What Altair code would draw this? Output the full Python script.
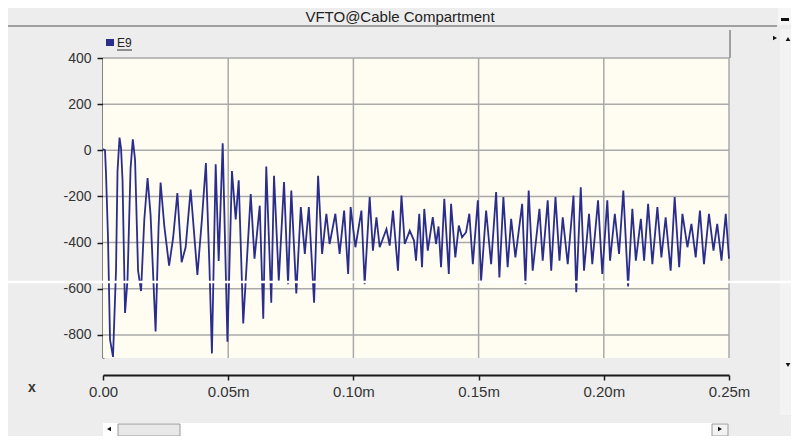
import altair as alt
import pandas as pd

# ---- data (time in ms, voltage) ----
T_MS = [0.0000, 0.0008, 0.0012, 0.0020, 0.0028, 0.0040, 0.0052, 0.0058, 0.0066, 0.0072,
        0.0078, 0.0088, 0.0098, 0.0110, 0.0119, 0.0128, 0.0140, 0.0152, 0.0165, 0.0178,
        0.0190, 0.0210, 0.0222, 0.0230, 0.0245, 0.0264, 0.0280, 0.0297, 0.0314, 0.0330,
        0.0350, 0.0377, 0.0395, 0.0411, 0.0425, 0.0435, 0.0450, 0.0462, 0.0478, 0.0497,
        0.0515, 0.0530, 0.0542, 0.0560, 0.0590, 0.0605, 0.0626, 0.0640, 0.0652, 0.0672,
        0.0683, 0.0702, 0.0723, 0.0739, 0.0752, 0.0772, 0.0790, 0.0806, 0.0822, 0.0843,
        0.0859, 0.0875, 0.0892, 0.0905, 0.0928, 0.0945, 0.0963, 0.0979, 0.0989, 0.1008,
        0.1032, 0.1045, 0.1065, 0.1078, 0.1092, 0.1105, 0.1132, 0.1145, 0.1158, 0.1178,
        0.1192, 0.1205, 0.1225, 0.1242, 0.1250, 0.1263, 0.1274, 0.1283, 0.1297, 0.1317,
        0.1330, 0.1340, 0.1350, 0.1363, 0.1381, 0.1390, 0.1407, 0.1421, 0.1434, 0.1450,
        0.1463, 0.1477, 0.1497, 0.1510, 0.1530, 0.1550, 0.1570, 0.1583, 0.1599, 0.1616,
        0.1630, 0.1647, 0.1674, 0.1687, 0.1700, 0.1716, 0.1743, 0.1756, 0.1776, 0.1790,
        0.1807, 0.1823, 0.1836, 0.1856, 0.1879, 0.1890, 0.1908, 0.1921, 0.1941, 0.1954,
        0.1977, 0.1994, 0.2014, 0.2025, 0.2044, 0.2061, 0.2078, 0.2097, 0.2114, 0.2128,
        0.2148, 0.2161, 0.2177, 0.2194, 0.2214, 0.2230, 0.2247, 0.2267, 0.2283, 0.2301,
        0.2314, 0.2334, 0.2350, 0.2367, 0.2384, 0.2400, 0.2420, 0.2438, 0.2453, 0.2470,
        0.2487, 0.2500]
E9 = [5, 0, -100, -380, -820, -895, -520, -90, 55, 10,
      -130, -705, -560, -80, 48, -40, -520, -610, -300, -120,
      -280, -785, -330, -140, -330, -500, -380, -185, -485, -420,
      -170, -540, -300, -55, -500, -880, -60, -480, 30, -830,
      -90, -300, -130, -750, -190, -470, -240, -730, -70, -660,
      -110, -565, -138, -580, -174, -620, -246, -449, -246, -660,
      -110, -449, -275, -406, -275, -449, -261, -536, -246, -420,
      -261, -580, -203, -435, -290, -420, -341, -413, -261, -522,
      -196, -406, -348, -391, -478, -275, -507, -254, -435, -290,
      -406, -330, -507, -210, -536, -232, -464, -326, -377, -355,
      -275, -493, -217, -565, -261, -493, -181, -551, -203, -507,
      -297, -464, -232, -580, -174, -522, -254, -478, -217, -522,
      -203, -478, -290, -493, -196, -615, -160, -522, -275, -493,
      -217, -536, -217, -478, -275, -449, -174, -590, -254, -478,
      -297, -478, -232, -493, -246, -464, -290, -522, -203, -507,
      -275, -420, -319, -464, -261, -493, -275, -435, -319, -478,
      -275, -470]
Y_TICKS = [-800, -600, -400, -200, 0, 200, 400]
X_TICKS = [0.0, 0.05, 0.10, 0.15, 0.20, 0.25]
TITLE = "VFTO@Cable Compartment"
SERIES = "E9"

W, H = 626, 300
FONT = "Liberation Sans"
NAVY = "#2A2D8C"

df = pd.DataFrame({"t": T_MS, "v": E9})
one = pd.DataFrame({"a": [0]})

xs = alt.Scale(domain=[0, 0.25], nice=False, zero=False)
ys = alt.Scale(domain=[-900, 400], nice=False, zero=False)


def rect(x, x2, y, y2, **kw):
    return alt.Chart(one).mark_rect(**kw).encode(
        x=alt.value(x), x2=alt.value(x2), y=alt.value(y), y2=alt.value(y2))


def hline(x, x2, y, **kw):
    return alt.Chart(one).mark_rule(**kw).encode(
        x=alt.value(x), x2=alt.value(x2), y=alt.value(y))


def vline(x, y, y2, **kw):
    return alt.Chart(one).mark_rule(**kw).encode(
        x=alt.value(x), y=alt.value(y), y2=alt.value(y2))


def label(x, y, txt, **kw):
    return alt.Chart(one).mark_text(text=txt, font=FONT, **kw).encode(
        x=alt.value(x), y=alt.value(y))


def tri(x, y, shape):
    return alt.Chart(one).mark_point(shape=shape, filled=True, size=22,
                                     color="#111", opacity=1).encode(
        x=alt.value(x), y=alt.value(y))


plot_bg = rect(0, W, 0, H, color="#FFFDF1")

hgrid = alt.Chart(pd.DataFrame({"v": Y_TICKS})).mark_rule(
    color="#A9A9A9", strokeWidth=1.5).encode(y=alt.Y("v:Q", scale=ys))
vgrid = alt.Chart(pd.DataFrame({"t": X_TICKS[1:]})).mark_rule(
    color="#A9A9A9", strokeWidth=1.5).encode(x=alt.X("t:Q", scale=xs))

line = alt.Chart(df).mark_line(color=NAVY, strokeWidth=1.8).encode(
    x=alt.X("t:Q", scale=xs, axis=alt.Axis(
        values=X_TICKS, title=None, grid=False, offset=17,
        labelExpr="datum.value == 0 ? '0.00' : format(datum.value, '.2f') + 'm'",
        domainColor="#1a1a1a", domainWidth=2, tickColor="#1a1a1a", tickWidth=1.5,
        tickSize=5, labelFontSize=15, labelColor="#333333", labelFont=FONT,
        labelPadding=4, labelFlush=False, labelOverlap=False)),
    y=alt.Y("v:Q", scale=ys, axis=alt.Axis(
        values=Y_TICKS, title=None, grid=False,
        labelExpr="datum.value + ''",
        domainColor="#1a1a1a", domainWidth=2, tickColor="#1a1a1a", tickWidth=1.5,
        tickSize=6, labelFontSize=14, labelColor="#333333", labelFont=FONT,
        labelPadding=6, labelOverlap=False)),
)

# window chrome
title_border = hline(-95, 674, -32, color="#A0A0A0", strokeWidth=2)
min_box = rect(675, 688, -50, -33, color="#F6F6F6")
min_btn = rect(678, 686, -40, -37, color="#111111")
title_txt = label(297, -41, TITLE, fontSize=15, color="#222222", align="center",
                  baseline="middle")
right_col = rect(677, 688, -29, 357, color="#F3F3F3")
strip_right = vline(627, -28, 0, color="#A0A0A0", strokeWidth=2)
leg_sq = rect(3, 11, -19, -12, color=NAVY)
leg_txt = label(14, -15, SERIES, fontSize=12, color="#222222", align="left",
                baseline="middle")
leg_ul = hline(14, 29, -8, color="#333333", strokeWidth=1)
tri_r = tri(672, -20, "triangle-right")
tri_u = tri(685, -19, "triangle-up")
tri_d = tri(685, 307, "triangle-down")
x_lbl = label(-71, 330, "x", fontSize=14, fontWeight="bold", color="#333333",
              align="center", baseline="middle")

# bottom scroll bar
sb_white = rect(0, 625, 365, 378, color="#FFFFFF")
sb_thumb = rect(15, 77, 366, 378, color="#E8E8E8", stroke="#9A9A9A", strokeWidth=1)
sb_rbtn = rect(609, 625, 366, 378, color="#F2F2F2", stroke="#9A9A9A", strokeWidth=1)
sb_left = tri(6, 371, "triangle-left")
sb_right = tri(617, 371, "triangle-right")

# white scan artefact across the picture
artefact = hline(-95, 688, 224, color="#FFFFFF", strokeWidth=2.5)

chart = alt.layer(
    right_col, plot_bg, hgrid, vgrid, line, artefact,
    title_border, min_box, min_btn, title_txt, strip_right,
    leg_sq, leg_txt, leg_ul, tri_r, tri_u, tri_d, x_lbl,
    sb_white, sb_thumb, sb_rbtn, sb_left, sb_right,
).properties(
    width=W, height=H,
    padding={"left": 95, "top": 50, "right": 62, "bottom": 78},
    autosize=alt.AutoSizeParams(type="none"),
    background="#EDEDED",
).configure_view(stroke=None)

chart.save("out.html", embed_options={"renderer": "svg", "actions": False})
